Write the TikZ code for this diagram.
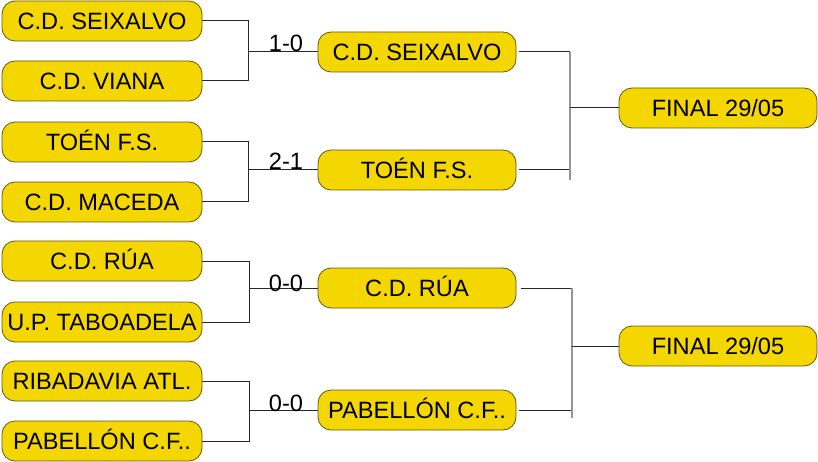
\documentclass[tikz,border=0pt]{standalone}
\usepackage{fontspec}
\setmainfont{Liberation Sans}
\definecolor{boxfill}{RGB}{244,214,0}
\definecolor{boxline}{RGB}{100,90,20}
\definecolor{conn}{RGB}{40,40,40}
\definecolor{vconn}{RGB}{150,150,150}
\begin{document}
\begin{tikzpicture}[x=1pt,y=-1pt,
  team/.style={draw=boxline,fill=boxfill,line width=0.8pt,rounded corners=13pt,
    minimum height=40pt,inner sep=0pt,text height=17pt,text depth=0pt,
    font=\fontsize{23.6}{24}\selectfont},
  lteam/.style={team,minimum width=200pt},
  mteam/.style={team,minimum width=198pt},
  fteam/.style={team,minimum width=198pt},
  link/.style={draw=conn,line width=1pt},
  vlink/.style={draw=vconn,line width=1.2pt},
  score/.style={anchor=base,inner sep=0pt,font=\fontsize{23.6}{24}\selectfont}]
\useasboundingbox (0,0) rectangle (818,462);
% left column
\node[lteam] (l1) at (102,21)  {C.D. SEIXALVO};
\node[lteam] (l2) at (102,81)  {C.D. VIANA};
\node[lteam] (l3) at (102,142) {TOÉN F.S.};
\node[lteam] (l4) at (102,202) {C.D. MACEDA};
\node[lteam] (l5) at (102,261) {C.D. RÚA};
\node[lteam] (l6) at (102,322) {U.P. TABOADELA};
\node[lteam] (l7) at (102,381) {RIBADAVIA ATL.};
\node[lteam] (l8) at (102,441) {PABELLÓN C.F..};
% middle column
\node[mteam] (m1) at (417,52)  {C.D. SEIXALVO};
\node[mteam] (m2) at (417,170) {TOÉN F.S.};
\node[mteam] (m3) at (417,288) {C.D. RÚA};
\node[mteam] (m4) at (417,410) {PABELLÓN C.F..};
% finals
\node[fteam] (f1) at (718,108) {FINAL 29/05};
\node[fteam] (f2) at (718,346) {FINAL 29/05};
% left joins
\coordinate (ja) at (248,0);
\draw[link] (l1.east) -| (ja |- l2.east) -- (l2.east);
\draw[link] (ja |- m1.west) -- (m1.west);
\draw[link] (l3.east) -| (ja |- l4.east) -- (l4.east);
\draw[link] (ja |- m2.west) -- (m2.west);
\coordinate (jb) at (249,0);
\draw[link] (l5.east) -| (jb |- l6.east) -- (l6.east);
\draw[link] (jb |- m3.west) -- (m3.west);
\draw[link] (l7.east) -| (jb |- l8.east) -- (l8.east);
\draw[link] (jb |- m4.west) -- (m4.west);
% scores
\node[score] (s1) at (286,52)  {1-0};
\node[score] (s2) at (286,170) {2-1};
\node[score] (s3) at (286,291) {0-0};
\node[score] (s4) at (286,411) {0-0};
% right joins
\coordinate (jc) at (570,0);
\coordinate (jd) at (572,0);
\draw[link] ([xshift=3pt]m1.east) -- (jc |- m1.east);
\draw[link] ([xshift=3pt]m2.east) -- (jc |- m2.east);
\draw[vlink] (jc |- m1.east) -- ([yshift=-10pt]jc |- m2.east);
\draw[link] (jc |- f1.west) -- (f1.west);
\draw[link] ([xshift=5pt]m3.east) -- (jd |- m3.east);
\draw[link] ([xshift=3pt]m4.east) -- (jd |- m4.east);
\draw[vlink] (jd |- m3.east) -- ([yshift=-8pt]jd |- m4.east);
\draw[link] (jd |- f2.west) -- (f2.west);
\end{tikzpicture}
\end{document}
